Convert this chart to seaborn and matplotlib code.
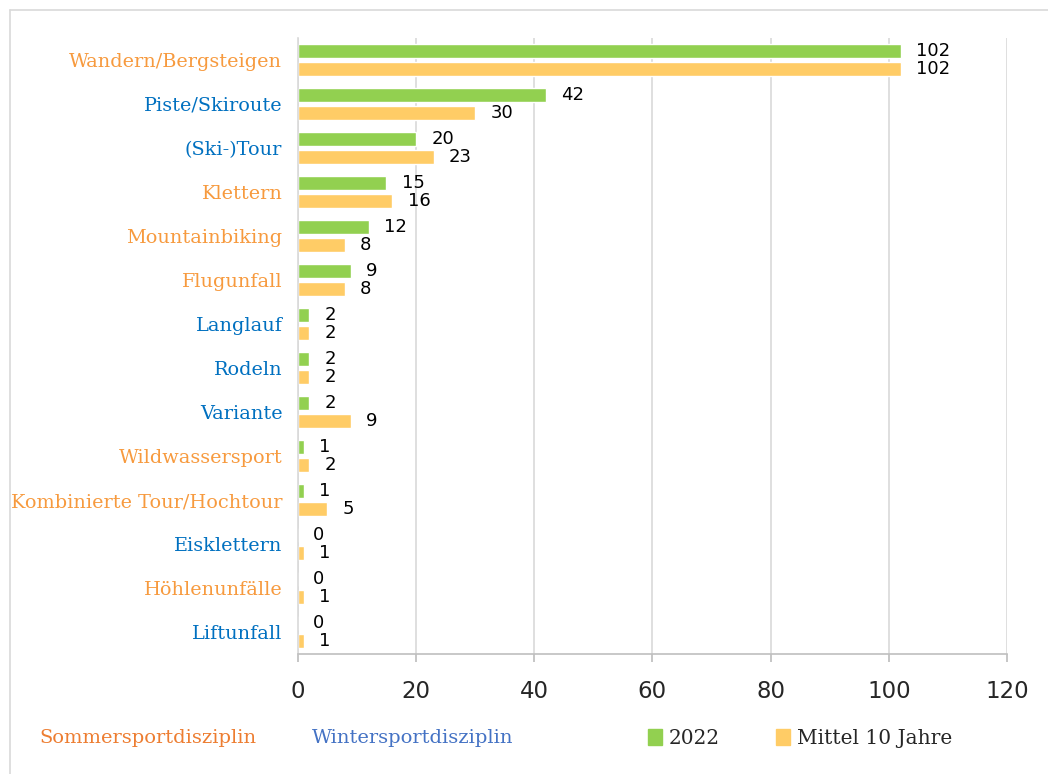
import pandas as pd
import matplotlib.pyplot as plt
import matplotlib.patches as mpatches
import matplotlib.lines as mlines
import seaborn as sns

sns.set_theme(style='white')
plt.rcParams['font.family'] = ['DejaVu Serif', 'DejaVu Sans']

# ---- Data ----
categories = ["Wandern/Bergsteigen", "Piste/Skiroute", "(Ski-)Tour", "Klettern",
              "Mountainbiking", "Flugunfall", "Langlauf", "Rodeln", "Variante",
              "Wildwassersport", "Kombinierte Tour/Hochtour", "Eisklettern",
              "Höhlenunfälle", "Liftunfall"]
values_2022 = [102, 42, 20, 15, 12, 9, 2, 2, 2, 1, 1, 0, 0, 0]
values_mittel = [102, 30, 23, 16, 8, 8, 2, 2, 9, 2, 5, 1, 1, 1]
season = ["S", "W", "W", "S", "S", "S", "W", "W", "W", "S", "S", "W", "S", "W"]
series_names = ["2022", "Mittel 10 Jahre"]

df = pd.DataFrame({
    "Kategorie": categories * 2,
    "Wert": values_2022 + values_mittel,
    "Serie": [series_names[0]] * len(categories) + [series_names[1]] * len(categories),
})

green = "#92D050"
yellow = "#FFCC66"
summer_col = "#F79A3E"
winter_col = "#0070C0"
grid_col = "#D9D9D9"

fig = plt.figure(figsize=(10.48, 7.74), dpi=100)
ax = fig.add_axes([0.284, 0.155, 0.677, 0.796])

sns.barplot(data=df, y="Kategorie", x="Wert", hue="Serie", orient="h",
            palette=[green, yellow], saturation=1, width=0.8, gap=0.2,
            ax=ax, legend=False)

for cont in ax.containers:
    ax.bar_label(cont, padding=11, fontsize=13, family='DejaVu Sans', color='black')

ax.set_xlim(0, 120)
ax.set_xticks(range(0, 121, 20))
ax.set_xlabel("")
ax.set_ylabel("")
ax.xaxis.grid(True, color=grid_col, linewidth=1.2)
ax.set_axisbelow(True)
for s in ["top", "right"]:
    ax.spines[s].set_visible(False)
ax.spines["left"].set_color(grid_col)
ax.spines["bottom"].set_color("#BFBFBF")
ax.spines["left"].set_linewidth(1.2)
ax.spines["bottom"].set_linewidth(1.2)
ax.tick_params(axis='x', bottom=True, length=6, color="#BFBFBF", labelsize=16.5, pad=13)
ax.tick_params(axis='y', left=False, labelsize=13.9, pad=5)
for lab in ax.get_xticklabels():
    lab.set_family('DejaVu Sans')

for lab, s in zip(ax.get_yticklabels(), season):
    lab.set_color(summer_col if s == "S" else winter_col)

# ---- Legend row ----
fig.text(0.038, 0.046, "Sommersportdisziplin", color="#ED7D31", fontsize=14, va='center')
fig.text(0.298, 0.046, "Wintersportdisziplin", color="#4472C4", fontsize=14, va='center')
handles = [mpatches.Patch(color=green, label=series_names[0]),
           mpatches.Patch(color=yellow, label=series_names[1])]
fig.legend(handles=handles, loc='center left', bbox_to_anchor=(0.601, 0.046), ncol=2,
           frameon=False, fontsize=14.5, handlelength=0.7, handleheight=0.9,
           handletextpad=0.35, columnspacing=2.75)

# figure border (left and top only)
fig.lines.append(mlines.Line2D([0.0095, 0.0095], [0.0, 0.987], transform=fig.transFigure,
                               color=grid_col, linewidth=1.2))
fig.lines.append(mlines.Line2D([0.0095, 1.0], [0.987, 0.987], transform=fig.transFigure,
                               color=grid_col, linewidth=1.2))

plt.savefig("out.png", dpi=100)
